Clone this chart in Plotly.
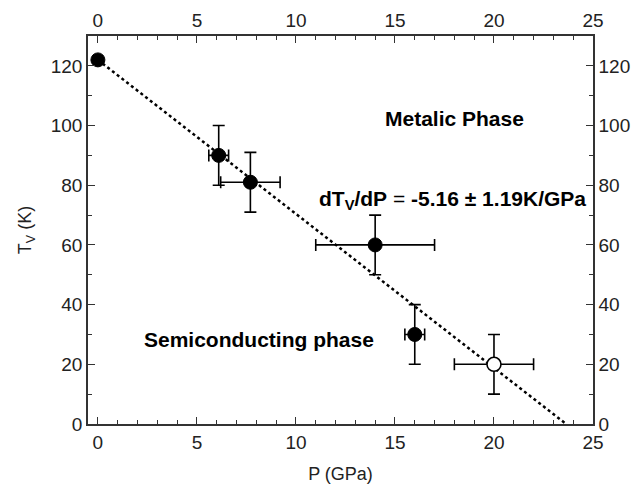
import plotly.graph_objects as go

# Data
p_filled = [0, 6.1, 7.7, 14.0, 16.0]
t_filled = [122, 90, 81, 60, 30]
p_err_filled = [0, 0.5, 1.5, 3.0, 0.5]
t_err_filled = [0, 10, 10, 10, 10]

p_open = [20.0]
t_open = [20]
p_err_open = [2.0]
t_err_open = [10]

fit_intercept = 122.0
fit_slope = -5.16
fit_p = [0, fit_intercept / -fit_slope]
fit_t = [fit_intercept + fit_slope * p for p in fit_p]

x_ticks = [0, 5, 10, 15, 20, 25]
y_ticks = [0, 20, 40, 60, 80, 100, 120]

FONT = "Liberation Sans, Arial, sans-serif"

fig = go.Figure()

fig.add_trace(go.Scatter(
    x=fit_p, y=fit_t, mode="lines",
    line=dict(color="black", width=2.5, dash="dot"),
    showlegend=False, hoverinfo="skip"))

fig.add_trace(go.Scatter(
    x=p_filled, y=t_filled, mode="markers",
    marker=dict(color="black", size=14, line=dict(color="black", width=1)),
    error_x=dict(type="data", array=p_err_filled, color="black", thickness=1.6, width=6),
    error_y=dict(type="data", array=t_err_filled, color="black", thickness=1.6, width=6),
    showlegend=False))

fig.add_trace(go.Scatter(
    x=p_open, y=t_open, mode="markers",
    marker=dict(color="white", size=14, line=dict(color="black", width=1.6)),
    error_x=dict(type="data", array=p_err_open, color="black", thickness=1.6, width=6),
    error_y=dict(type="data", array=t_err_open, color="black", thickness=1.6, width=6),
    showlegend=False))

# invisible trace for top/right axes
fig.add_trace(go.Scatter(x=[None], y=[None], xaxis="x2", yaxis="y2",
                         showlegend=False, hoverinfo="skip"))

axis_common = dict(
    showline=True, linecolor="#333333", linewidth=1.5,
    ticks="inside", ticklen=7, tickwidth=1.3, tickcolor="#333333",
    showgrid=False, zeroline=False, automargin=False,
    tickfont=dict(family=FONT, size=19, color="#222222"),
)
minor_x = dict(ticks="inside", dtick=1, tick0=0, ticklen=4, tickwidth=1.2, tickcolor="#333333")
minor_y = dict(ticks="inside", dtick=10, tick0=0, ticklen=4, tickwidth=1.2, tickcolor="#333333")

fig.update_layout(
    width=640, height=486,
    margin=dict(l=88, r=47, t=36, b=62),
    plot_bgcolor="white", paper_bgcolor="white",
    font=dict(family=FONT, color="#222222"),
    xaxis=dict(range=[-0.5, 25], tickvals=x_ticks, minor=minor_x,
               title=dict(text="P (GPa)", font=dict(family=FONT, size=18), standoff=16),
               **axis_common),
    yaxis=dict(range=[0, 130], tickvals=y_ticks, minor=minor_y,
               title=dict(text="T<sub>V</sub> (K)", font=dict(family=FONT, size=18), standoff=14),
               **axis_common),
    xaxis2=dict(range=[-0.5, 25], tickvals=x_ticks, overlaying="x", side="top",
                minor=minor_x, **axis_common),
    yaxis2=dict(range=[0, 130], tickvals=y_ticks, overlaying="y", side="right",
                minor=minor_y, **axis_common),
)

ann_font = dict(family=FONT, size=21, color="black")
fig.add_annotation(x=18.0, y=102.3, text="<b>Metalic Phase</b>", showarrow=False, font=ann_font)
fig.add_annotation(x=17.9, y=75.0, text="<b>dT<sub>V</sub>/dP</b> = <b>-5.16 ± 1.19K/GPa</b>",
                   showarrow=False, font=ann_font)
fig.add_annotation(x=8.15, y=28.4, text="<b>Semiconducting phase</b>", showarrow=False, font=ann_font)

fig.write_html("out.html", config={"displayModeBar": False},
               post_script="document.body.style.margin='0';")
